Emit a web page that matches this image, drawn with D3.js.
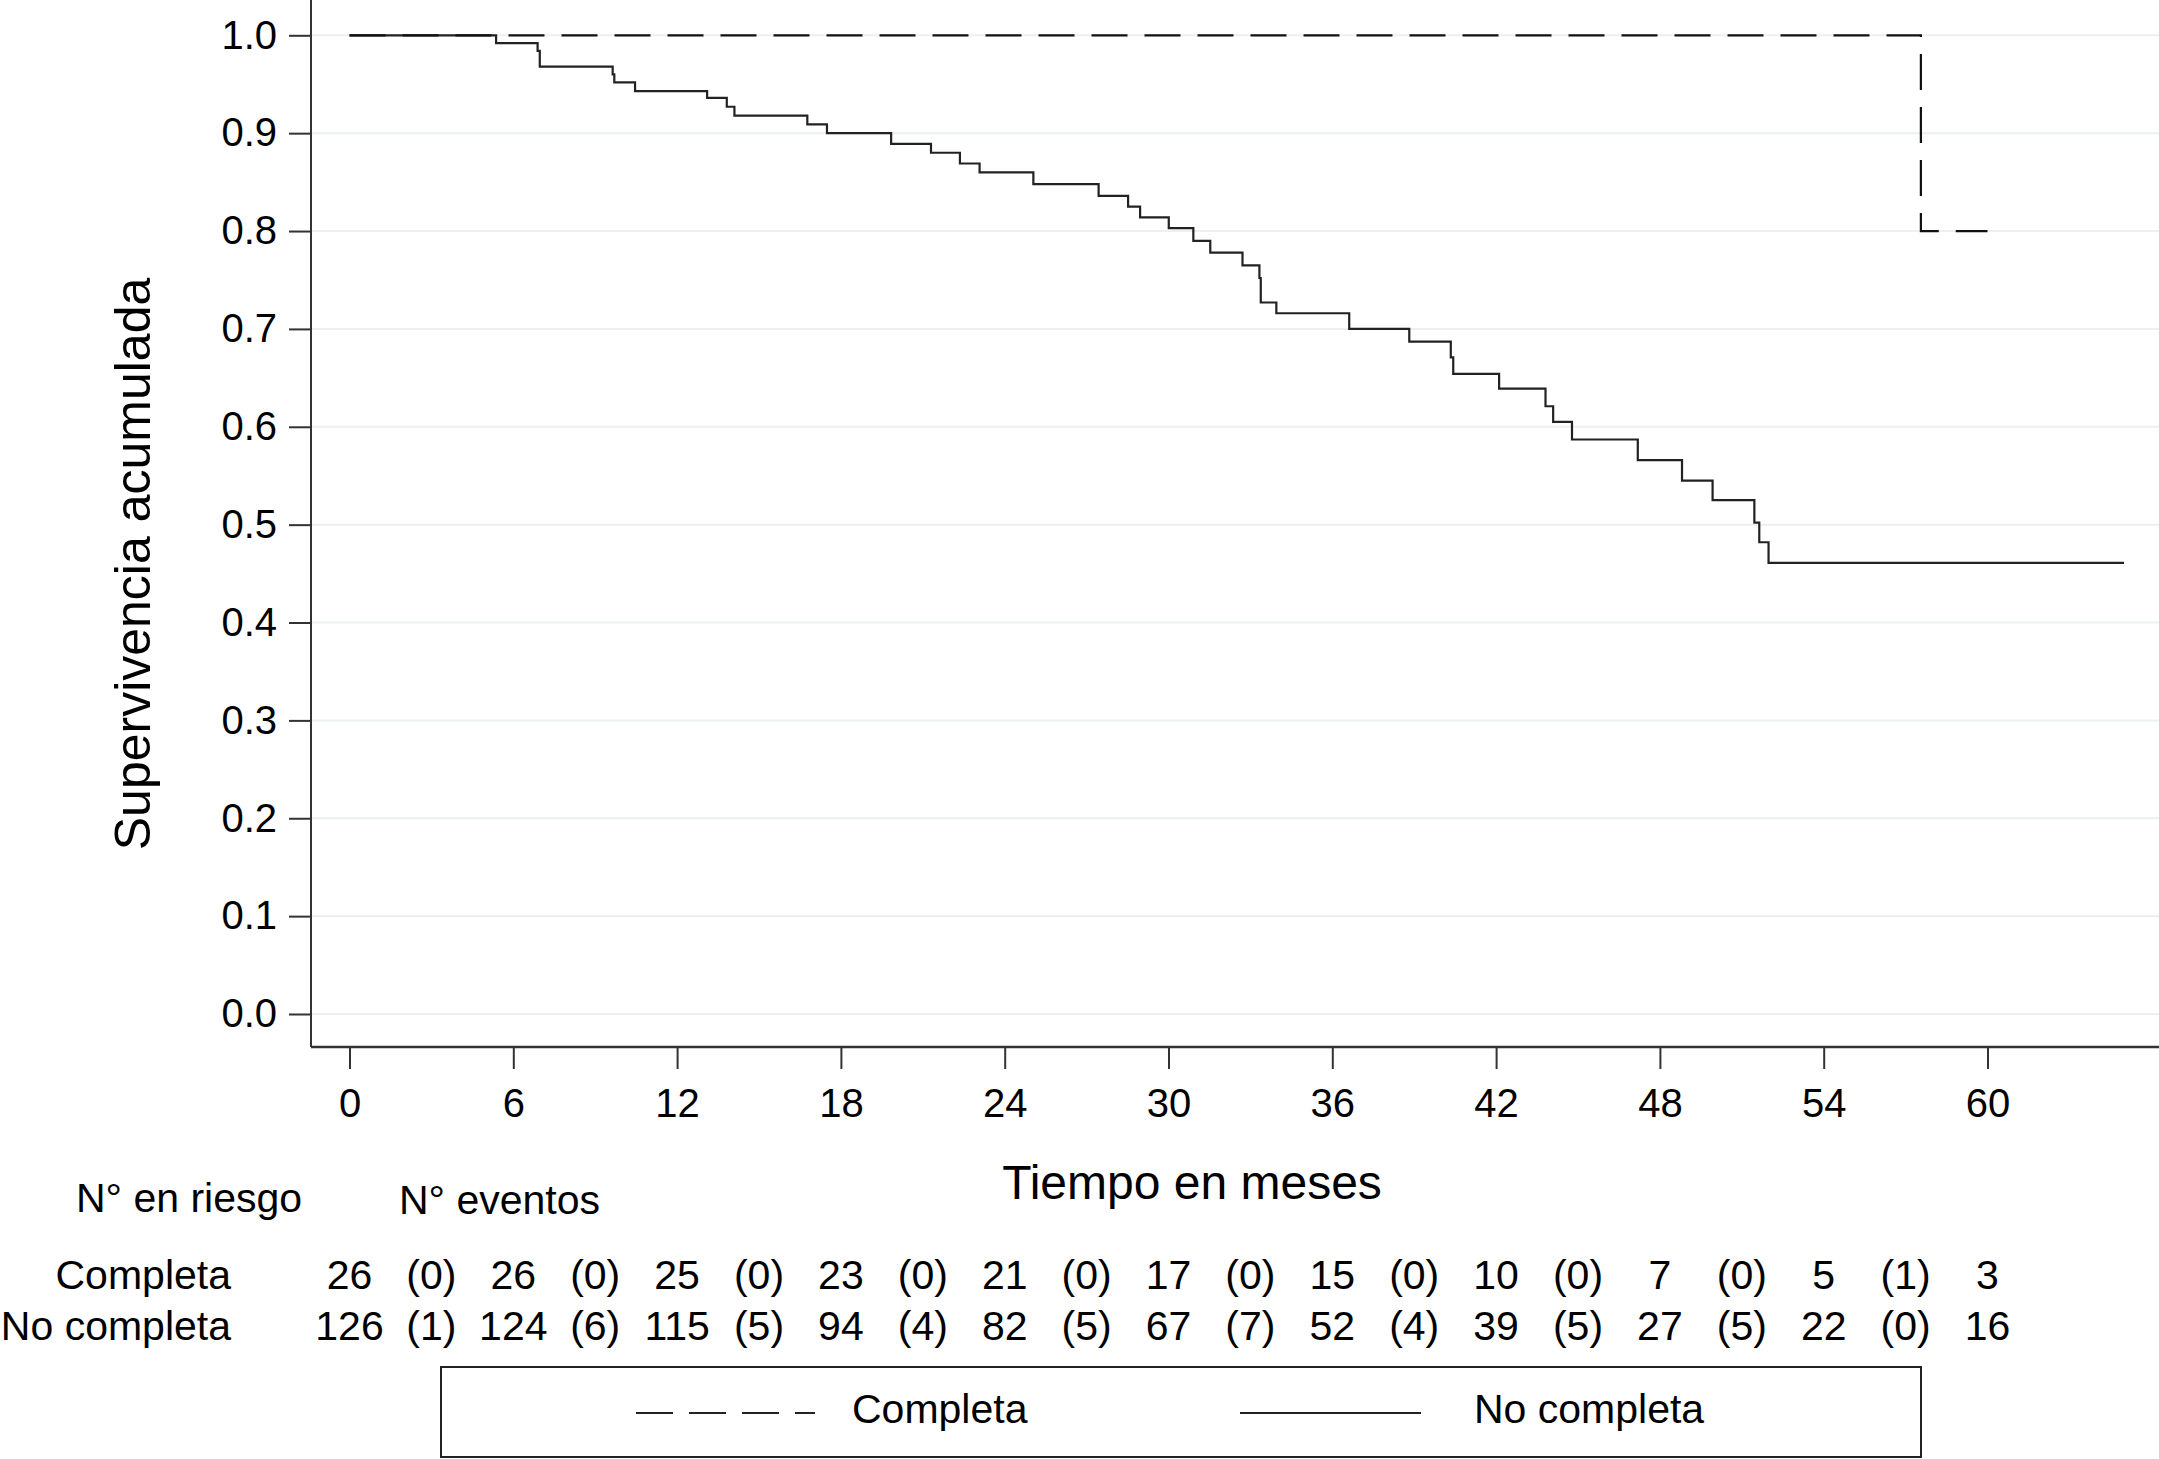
<!DOCTYPE html>
<html>
<head>
<meta charset="utf-8">
<script src="https://cdn.jsdelivr.net/npm/d3@7"></script>
<style>
  body { margin: 0; background: #fff; }
  text { font-family: "Liberation Sans", Arial, sans-serif; fill: #000; }
</style>
</head>
<body>
<div id="chart"></div>
<script>
// Kaplan-Meier steps
var noCompletaTimes = [0, 5.37, 6.89, 6.97, 9.64, 9.70, 10.46, 13.1, 13.82, 14.1, 16.77, 17.49, 19.84, 21.3,
  22.36, 23.08, 25.05, 27.44, 28.52, 28.96, 30.01, 30.91, 31.53, 32.71, 33.33, 33.38, 33.95, 36.62, 38.82,
  40.34, 40.43, 42.11, 43.81, 44.09, 44.78, 47.19, 48.81, 49.93, 51.46, 51.64, 51.98];
var noCompletaSurv = [1.0, 0.992, 0.984, 0.968, 0.960, 0.952, 0.943, 0.936, 0.927, 0.918, 0.909, 0.900, 0.889, 0.880,
  0.869, 0.860, 0.848, 0.836, 0.825, 0.814, 0.803, 0.790, 0.778, 0.765, 0.752, 0.727, 0.716, 0.700, 0.687,
  0.671, 0.654, 0.639, 0.621, 0.605, 0.587, 0.566, 0.545, 0.525, 0.502, 0.482, 0.461];
var noCompletaEnd = 65;

var completaTimes = [0, 57.56];
var completaSurv = [1.0, 0.8];
var completaEnd = 60;

var xTicks = [0, 6, 12, 18, 24, 30, 36, 42, 48, 54, 60];
var yTicks = [0, 0.1, 0.2, 0.3, 0.4, 0.5, 0.6, 0.7, 0.8, 0.9, 1.0];

// risk table
var groups = ["Completa", "No completa"];
var riskCompleta = [26, 26, 25, 23, 21, 17, 15, 10, 7, 5, 3];
var eventsCompleta = [0, 0, 0, 0, 0, 0, 0, 0, 0, 1];
var riskNoCompleta = [126, 124, 115, 94, 82, 67, 52, 39, 27, 22, 16];
var eventsNoCompleta = [1, 6, 5, 4, 5, 7, 4, 5, 5, 0];

var width = 2159, height = 1459;
var axisX = 311, axisY = 1047;

var svg = d3.select("#chart").append("svg")
  .attr("width", width)
  .attr("height", height);

svg.append("rect").attr("width", width).attr("height", height).attr("fill", "#fff");

var x = d3.scaleLinear().domain([0, 60]).range([349.5, 1987.5]);
var y = d3.scaleLinear().domain([0, 1]).range([1014, 35.3]);

// light horizontal grid
svg.selectAll("line.grid")
  .data(yTicks)
  .enter().append("line")
  .attr("class", "grid")
  .attr("x1", axisX).attr("x2", width)
  .attr("y1", function(d){ return y(d); })
  .attr("y2", function(d){ return y(d); })
  .style("stroke", "#e9f1f1")
  .style("stroke-width", 2);

// y axis
var yAxis = d3.axisLeft(y).tickValues(yTicks).tickSize(22).tickPadding(12)
  .tickFormat(d3.format(".1f"));
var gy = svg.append("g").attr("transform", "translate(" + axisX + ",0)").call(yAxis);
gy.select(".domain").remove();
gy.selectAll("line").style("stroke", "#333").style("stroke-width", 2);
gy.selectAll("text").style("font-size", "40px").attr("font-family", "Liberation Sans, Arial, sans-serif");

svg.append("line")
  .attr("x1", axisX).attr("x2", axisX).attr("y1", 0).attr("y2", axisY)
  .style("stroke", "#333").style("stroke-width", 2);

// x axis
var xAxis = d3.axisBottom(x).tickValues(xTicks).tickSize(22).tickPadding(20);
var gx = svg.append("g").attr("transform", "translate(0," + axisY + ")").call(xAxis);
gx.select(".domain").remove();
gx.selectAll("line").style("stroke", "#333").style("stroke-width", 2);
gx.selectAll("text").style("font-size", "40px").attr("font-family", "Liberation Sans, Arial, sans-serif");

svg.append("line")
  .attr("x1", axisX).attr("x2", width).attr("y1", axisY).attr("y2", axisY)
  .style("stroke", "#333").style("stroke-width", 2.5);

// axis titles
svg.append("text")
  .attr("transform", "translate(150,564) rotate(-90)")
  .attr("text-anchor", "middle")
  .style("font-size", "50px")
  .text("Supervivencia acumulada");

svg.append("text")
  .attr("x", 1192).attr("y", 1199)
  .attr("text-anchor", "middle")
  .style("font-size", "48px")
  .text("Tiempo en meses");

// survival curves
var toPoints = function(times, surv, end) {
  var pts = times.map(function(t, i){ return {t: t, s: surv[i]}; });
  pts.push({t: end, s: surv[surv.length - 1]});
  return pts;
};

var line = d3.line()
  .x(function(d){ return x(d.t); })
  .y(function(d){ return y(d.s); })
  .curve(d3.curveStepAfter);

svg.append("path")
  .datum(toPoints(noCompletaTimes, noCompletaSurv, noCompletaEnd))
  .attr("d", line)
  .style("fill", "none").style("stroke", "#222").style("stroke-width", 2.2);

svg.append("path")
  .datum(toPoints(completaTimes, completaSurv, completaEnd))
  .attr("d", line)
  .style("fill", "none").style("stroke", "#111").style("stroke-width", 2.2)
  .style("stroke-dasharray", "36,17");

// numbers at risk table
svg.append("text").attr("x", 76).attr("y", 1212).style("font-size", "41px").text("N\u00b0 en riesgo");
svg.append("text").attr("x", 399).attr("y", 1214).style("font-size", "41px").text("N\u00b0 eventos");

var rows = [
  {name: groups[0], risk: riskCompleta, events: eventsCompleta, yy: 1289},
  {name: groups[1], risk: riskNoCompleta, events: eventsNoCompleta, yy: 1340}
];

rows.forEach(function(r){
  svg.append("text")
    .attr("x", 231).attr("y", r.yy)
    .attr("text-anchor", "end")
    .style("font-size", "41px")
    .text(r.name);
  svg.selectAll(null)
    .data(r.risk)
    .enter().append("text")
    .attr("x", function(d, i){ return x(xTicks[i]); })
    .attr("y", r.yy)
    .attr("text-anchor", "middle")
    .style("font-size", "41px")
    .text(function(d){ return d; });
  svg.selectAll(null)
    .data(r.events)
    .enter().append("text")
    .attr("x", function(d, i){ return x(xTicks[i] + 3); })
    .attr("y", r.yy)
    .attr("text-anchor", "middle")
    .style("font-size", "41px")
    .text(function(d){ return "(" + d + ")"; });
});

// legend
var legend = svg.append("g");
legend.append("rect")
  .attr("x", 441).attr("y", 1367).attr("width", 1480).attr("height", 90)
  .style("fill", "none").style("stroke", "#222").style("stroke-width", 2);
legend.append("line")
  .attr("x1", 636).attr("x2", 815).attr("y1", 1413).attr("y2", 1413)
  .style("stroke", "#222").style("stroke-width", 2).style("stroke-dasharray", "37,16");
legend.append("text").attr("x", 852).attr("y", 1423).style("font-size", "41px").text("Completa");
legend.append("line")
  .attr("x1", 1240).attr("x2", 1421).attr("y1", 1413).attr("y2", 1413)
  .style("stroke", "#222").style("stroke-width", 2);
legend.append("text").attr("x", 1474).attr("y", 1423).style("font-size", "41px").text("No completa");
</script>
</body>
</html>
